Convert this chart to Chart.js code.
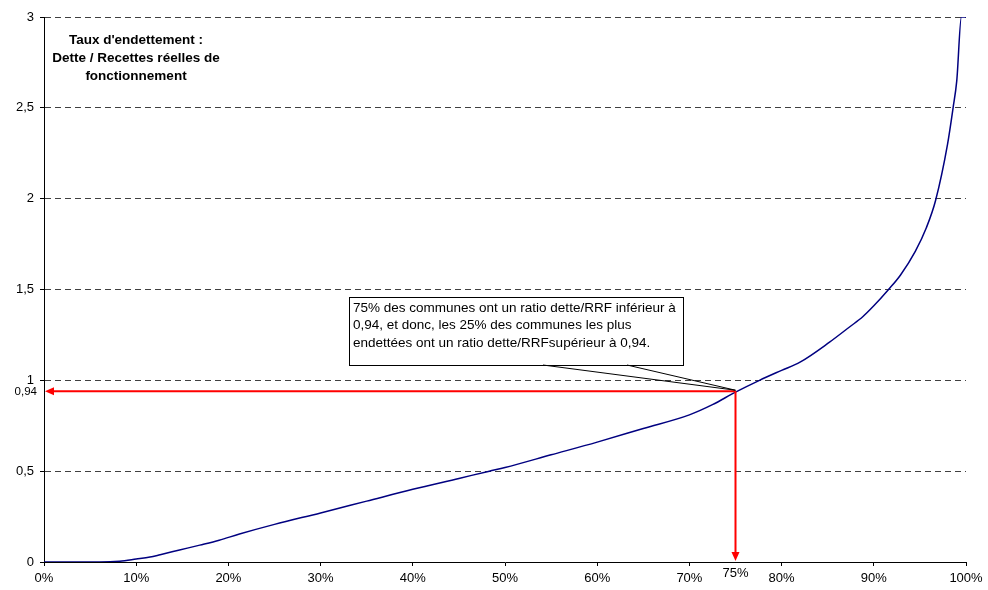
<!DOCTYPE html>
<html>
<head>
<meta charset="utf-8">
<script src="https://cdn.jsdelivr.net/npm/chart.js@4.4.1/dist/chart.umd.min.js"></script>
<style>
  html, body { margin: 0; padding: 0; background: #fff; }
  #wrap { width: 988px; height: 590px; position: relative; }
</style>
</head>
<body>
<div id="wrap"><canvas id="chart" width="988" height="590"></canvas></div>
<script>
// Share of communes (%) and matching debt ratio (dette / RRF)
const pctCommunes = [0, 6, 8.2, 10, 11.5, 12.6, 14.7, 16.9, 19, 21.2, 25, 30, 35, 40, 45, 48.3, 50, 55, 60, 65, 70, 72.5, 75, 77.6, 80, 82, 85.2, 87.4, 88.8, 90, 91.6, 92.9, 94.5, 95.7, 96.7, 98, 98.6, 99, 99.5, 100];
const ratioDette  = [0, 0, 0.004, 0.016, 0.027, 0.04, 0.066, 0.093, 0.12, 0.154, 0.207, 0.27, 0.335, 0.40, 0.46, 0.5, 0.52, 0.59, 0.66, 0.735, 0.81, 0.866, 0.935, 1.0, 1.055, 1.10, 1.21, 1.295, 1.35, 1.41, 1.50, 1.58, 1.71, 1.84, 1.99, 2.3, 2.5, 2.65, 3.0, 3.0];

const yTicks = [0, 0.5, 1, 1.5, 2, 2.5, 3];
const titleLines = ["Taux d'endettement :", "Dette / Recettes réelles de", "fonctionnement"];
const noteLines = [
  "75% des communes ont un ratio dette/RRF inférieur à",
  "0,94, et donc, les 25% des communes les plus",
  "endettées ont un ratio dette/RRFsupérieur à 0,94."
];
const markPct = 75;
const markRatio = 0.94;

const FONT = "'Liberation Sans', Arial, sans-serif";

const points = pctCommunes.map((p, i) => ({ x: p, y: ratioDette[i] }));

// annotations: title, red arrows, callout box
const annotations = {
  id: 'annotations',
  afterDraw(chart) {
    const ctx = chart.ctx;
    const xs = chart.scales.x, ys = chart.scales.y;
    const area = chart.chartArea;
    const px = xs.getPixelForValue(markPct);
    const py = ys.getPixelForValue(markRatio);

    ctx.save();

    // title inside the plot
    ctx.fillStyle = '#000';
    ctx.font = 'bold 13.5px ' + FONT;
    ctx.textAlign = 'center';
    ctx.textBaseline = 'middle';
    titleLines.forEach((t, i) => ctx.fillText(t, area.left + 92, area.top + 23 + i * 18));

    // red arrows
    ctx.strokeStyle = '#ff0000';
    ctx.fillStyle = '#ff0000';
    ctx.lineWidth = 2;
    ctx.beginPath();
    ctx.moveTo(px, py);
    ctx.lineTo(area.left + 8, py);
    ctx.moveTo(px, py);
    ctx.lineTo(px, area.bottom - 8);
    ctx.stroke();
    ctx.beginPath();
    ctx.moveTo(area.left + 1, py);
    ctx.lineTo(area.left + 10, py - 4);
    ctx.lineTo(area.left + 10, py + 4);
    ctx.closePath();
    ctx.fill();
    ctx.beginPath();
    ctx.moveTo(px, area.bottom - 1);
    ctx.lineTo(px - 4, area.bottom - 10);
    ctx.lineTo(px + 4, area.bottom - 10);
    ctx.closePath();
    ctx.fill();

    // callout box
    const bx = area.left + 305, by = area.top + 280, bw = 334, bh = 68;
    ctx.fillStyle = '#fff';
    ctx.fillRect(bx, by, bw, bh);
    ctx.strokeStyle = '#000';
    ctx.lineWidth = 1;
    ctx.strokeRect(bx + 0.5, by + 0.5, bw, bh);
    ctx.beginPath();
    ctx.moveTo(bx + 194, by + bh);
    ctx.lineTo(px, py - 1);
    ctx.lineTo(bx + 278, by + bh);
    ctx.stroke();
    ctx.fillStyle = '#000';
    ctx.font = '13.5px ' + FONT;
    ctx.textAlign = 'left';
    noteLines.forEach((t, i) => ctx.fillText(t, bx + 4, by + 11 + i * 17.5));

    // extra axis labels
    ctx.font = '11.5px ' + FONT;
    ctx.textAlign = 'right';
    ctx.fillText('0,94', area.left - 7, py + 1);
    ctx.font = '13px ' + FONT;
    ctx.textAlign = 'center';
    ctx.fillText(markPct + '%', px, area.bottom + 11);

    ctx.restore();
  }
};

new Chart(document.getElementById('chart').getContext('2d'), {
  type: 'line',
  data: {
    datasets: [{
      data: points,
      borderColor: '#000080',
      borderWidth: 1.5,
      pointRadius: 0,
      cubicInterpolationMode: 'monotone',
      fill: false
    }]
  },
  options: {
    responsive: false,
    animation: false,
    events: [],
    layout: { padding: { top: 17, right: 22, left: 0, bottom: 0 } },
    plugins: { legend: { display: false }, tooltip: { enabled: false } },
    scales: {
      x: {
        type: 'linear',
        min: 0,
        max: 100,
        afterFit(s) { s.height = 28; },
        ticks: {
          stepSize: 10,
          color: '#000',
          font: { family: FONT, size: 13 },
          padding: 5,
          maxRotation: 0,
          callback: v => v + '%'
        },
        grid: { drawOnChartArea: false, drawTicks: true, tickLength: 4, tickColor: '#000' },
        border: { color: '#000', width: 1 }
      },
      y: {
        min: 0,
        max: 3,
        afterFit(s) { s.width = 44; },
        afterBuildTicks(s) { s.ticks = yTicks.map(v => ({ value: v })); },
        ticks: {
          color: '#000',
          font: { family: FONT, size: 13 },
          padding: 6,
          callback: v => String(v).replace('.', ',')
        },
        grid: {
          color: ctx => ctx.tick && ctx.tick.value === 0 ? 'rgba(0,0,0,0)' : '#404040',
          lineWidth: 1,
          tickLength: 4,
          tickColor: '#000',
          tickBorderDash: []
        },
        border: { color: '#000', width: 1, dash: [6, 4] }
      }
    }
  },
  plugins: [annotations]
});
</script>
</body>
</html>
